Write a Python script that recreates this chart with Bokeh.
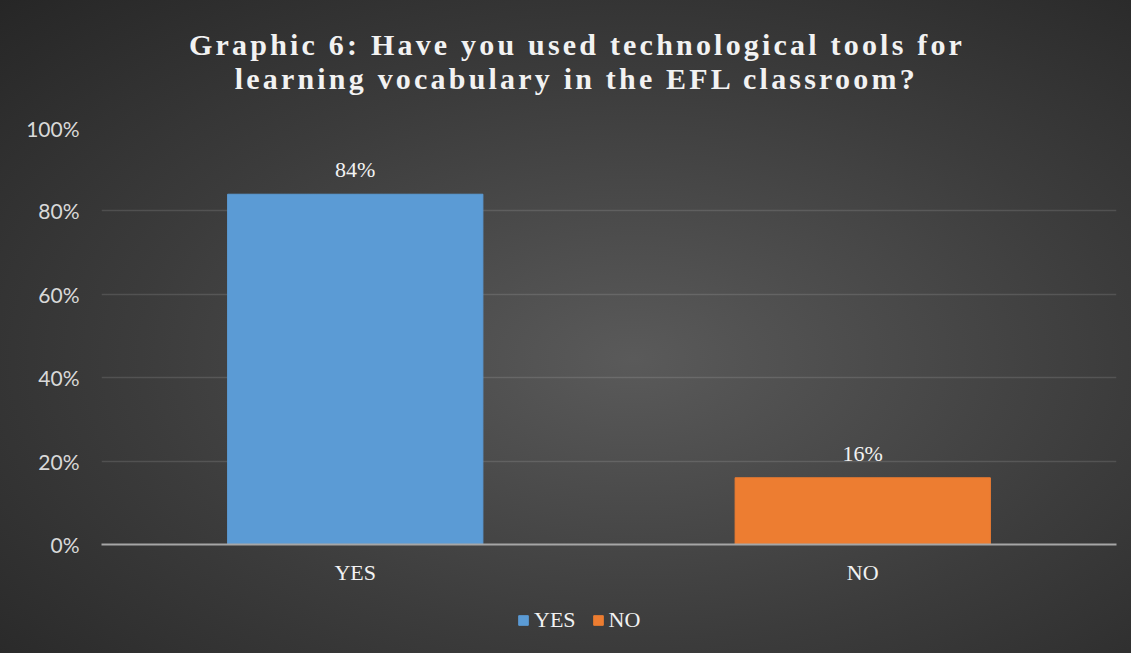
from bokeh.plotting import figure
from bokeh.layouts import column
from bokeh.models import ColumnDataSource, NumeralTickFormatter, Legend, LegendItem
from bokeh.embed import file_html
from bokeh.resources import INLINE
from bokeh.core.properties import value

title_lines = ["Graphic 6: Have you used technological tools for",
               "learning vocabulary in the EFL classroom?"]
categories = ["YES", "NO"]
values = [0.84, 0.16]
labels = ["84%", "16%"]
colors = ["#5b9bd5", "#ed7d31"]
y_ticks = [0, 0.2, 0.4, 0.6, 0.8, 1.0]

src = ColumnDataSource(dict(cat=categories, val=values, lab=labels, color=colors))

# layout (pixels)
W = 1131
H_TOP, H_MAIN, H_LEG = 115, 481, 57
BL, BR = 101, 15
SERIF = "Liberation Serif"
TXT = "#f2f2f2"
TRACK = 3.2  # title letter spacing (px)

def transparent(fig):
    fig.background_fill_alpha = 0
    fig.border_fill_alpha = 0
    fig.outline_line_color = None

# ---- title strip ----
p0 = figure(width=W, height=H_TOP, x_range=(BL, W - BR), y_range=(0, H_TOP),
            output_backend="svg", toolbar_location=None,
            min_border_left=BL, min_border_right=BR, min_border_top=0, min_border_bottom=0,
            styles={"letter-spacing": f"{TRACK}px"})
transparent(p0)
p0.axis.visible = False
p0.grid.visible = False
# centre each line, compensating for the tracking that the text measurement ignores
title_x = [575 - TRACK * (len(t) - 1) / 2 for t in title_lines]
title_src = ColumnDataSource(dict(x=title_x, y=[71, 37], t=title_lines))
p0.text(x="x", y="y", text="t", source=title_src, text_align="center", text_baseline="middle",
        text_font=value(SERIF), text_font_style="bold", text_font_size="30px", text_color=TXT)

# ---- main chart ----
p = figure(
    x_range=categories, y_range=(0, 1.0),
    width=W, height=H_MAIN,
    output_backend="svg", toolbar_location=None,
    min_border_left=BL, min_border_right=BR, min_border_top=12, min_border_bottom=52,
)
transparent(p)

p.vbar(x="cat", top="val", width=0.503, color="color", source=src)

p.text(x="cat", y="val", text="lab", source=src, text_align="center", text_baseline="bottom",
       y_offset=-12, text_font=value(SERIF), text_font_size="22px", text_color=TXT)

p.xgrid.grid_line_color = None
p.ygrid.grid_line_color = "white"
p.ygrid.grid_line_alpha = 0.12
p.ygrid.grid_line_width = 1.5

p.yaxis.ticker = y_ticks
p.yaxis.formatter = NumeralTickFormatter(format="0%")
p.yaxis.axis_line_color = None
p.yaxis.major_tick_line_color = None
p.yaxis.minor_tick_line_color = None
p.yaxis.major_label_text_font = "Lato"
p.yaxis.major_label_text_font_size = "21px"
p.yaxis.major_label_text_color = "#d9d9d9"
p.yaxis.major_label_standoff = 16

p.xaxis.axis_line_color = "#a6a6a6"
p.xaxis.axis_line_width = 2
p.xaxis.major_tick_line_color = None
p.xaxis.minor_tick_line_color = None
p.xaxis.major_label_text_font = SERIF
p.xaxis.major_label_text_font_size = "22px"
p.xaxis.major_label_text_color = TXT
p.xaxis.major_label_standoff = 9

# ---- legend strip ----
p2 = figure(x_range=categories, y_range=(-2, -1), width=W, height=H_LEG,
            output_backend="svg", toolbar_location=None,
            min_border_left=BL, min_border_right=BR, min_border_top=0, min_border_bottom=0)
transparent(p2)
p2.axis.visible = False
p2.grid.visible = False
r2 = p2.vbar(x="cat", top="val", width=0.5, color="color", source=src)
r2.visible = False

legend = Legend(items=[LegendItem(label=categories[0], renderers=[r2], index=0),
                       LegendItem(label=categories[1], renderers=[r2], index=1)],
                orientation="horizontal", location=(416, 20))
legend.background_fill_alpha = 0
legend.border_line_alpha = 0
legend.inactive_fill_alpha = 0
legend.padding = 0
legend.margin = 0
legend.glyph_width = 12
legend.glyph_height = 12
legend.label_standoff = 5
legend.spacing = 16
legend.label_text_font = SERIF
legend.label_text_font_size = "22px"
legend.label_text_color = TXT
p2.add_layout(legend, "center")

layout = column(p0, p, p2, spacing=0, width=W, height=H_TOP + H_MAIN + H_LEG,
                styles={"background": "radial-gradient(ellipse farthest-corner at 56% 55%, #5a5a5a 0%, #3c3c3c 55%, #262626 100%)"})

open("out.html", "w").write(file_html(layout, INLINE))
